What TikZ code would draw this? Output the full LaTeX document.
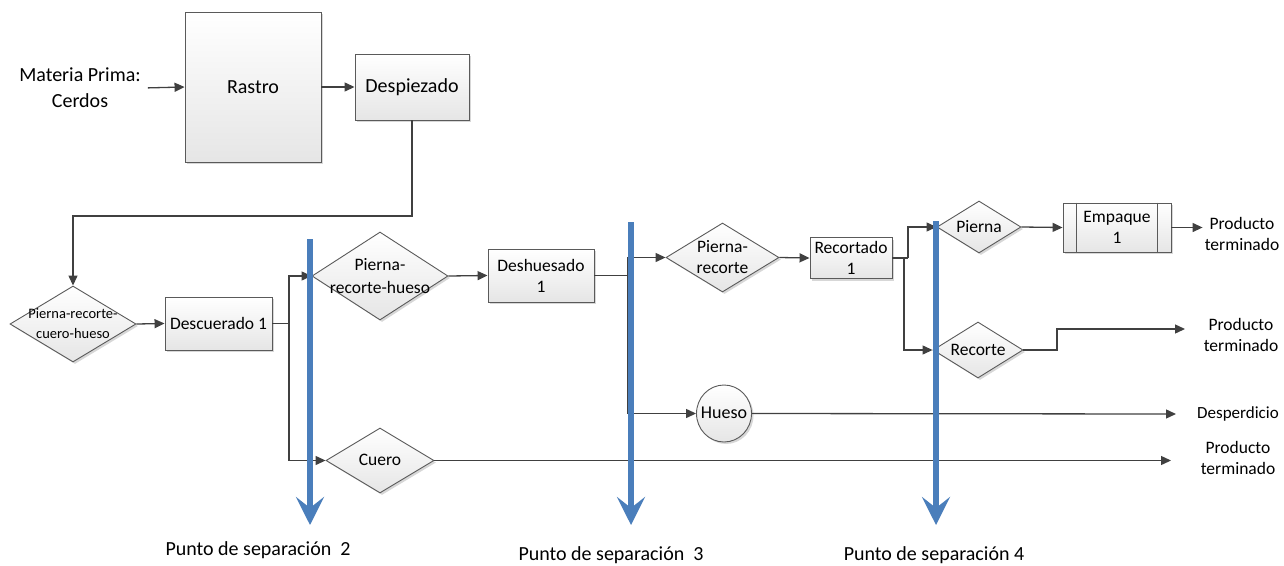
\documentclass[tikz,border=0pt]{standalone}
\usepackage{fontspec}
\setmainfont{Carlito}
\usetikzlibrary{arrows.meta,shapes.geometric,shadows}
\definecolor{linegray}{HTML}{404040}
\definecolor{edgegray}{HTML}{5A5A5A}
\definecolor{sepblue}{HTML}{4A7EBB}
% text of zero size, so that a shape keeps the size it is given
\newcommand\zbox[1]{\smash{\makebox[0pt]{\raisebox{-0.3em}{\begin{tabular}{@{}c@{}}#1\end{tabular}}}}}
\newcommand\fs[2]{\fontsize{#1}{#2}\selectfont}

\begin{document}
\begin{tikzpicture}[x=1pt,y=-1pt,
  every node/.style={inner sep=2pt},
  shapefill/.style={draw=edgegray, line width=0.9pt, top color=white, bottom color=black!10,
    drop shadow={shadow xshift=2pt, shadow yshift=-2pt, fill=black!35, opacity=0.45}},
  procbox/.style={shapefill, rectangle, font=\fs{17.5}{21}, align=center},
  bigbox/.style={shapefill, rectangle, font=\fs{20}{24}},
  decision/.style={shapefill, diamond, inner sep=0pt},
  conn/.style={draw=linegray, line width=1.3pt, -{Triangle[length=10pt,width=9pt]}},
  wire/.style={draw=linegray, line width=1.3pt},
  plain/.style={font=\fs{17.5}{21}, align=center},
  septxt/.style={font=\fs{20}{24}},
  sep/.style={draw=sepblue, line width=6pt, -{Stealth[length=28pt,width=28pt,inset=11pt]}}
]
\useasboundingbox (0,0) rectangle (1284,565);

% upper part: input, slaughter and cutting
\node[font=\fs{20}{26}, align=center] (mp) at (80,88) {Materia Prima:\\Cerdos};
\node[bigbox, minimum width=136pt, minimum height=150pt] (rastro) at (253,87) {Rastro};
\node[bigbox, minimum width=114pt, minimum height=66pt] (desp) at (412,87) {Despiezado};

% process chain
\node[decision, minimum width=126pt, minimum height=76pt, font=\fs{14.5}{20}] (prch) at (73,324) {\zbox{Pierna-recorte-\\cuero-hueso}};
\node[procbox, minimum width=107pt, minimum height=53pt] (desc) at (218.5,323.5) {Descuerado 1};
\node[decision, minimum width=136pt, minimum height=88pt, font=\fs{17.5}{23}] (prh) at (380,276) {\zbox{Pierna-\\recorte-hueso}};
\node[procbox, minimum width=106pt, minimum height=53pt] (desh) at (541,275.5) {Deshuesado\\1};
\node[decision, minimum width=113pt, minimum height=69pt, font=\fs{17.5}{21}] (pr) at (722.5,257.5) {\zbox{Pierna-\\recorte}};
\node[procbox, minimum width=82pt, minimum height=41pt, inner sep=0pt] (rec) at (851,258) {Recortado\\1};
\node[decision, minimum width=84pt, minimum height=52pt, font=\fs{17.5}{21}] (pierna) at (979,227) {\zbox{Pierna}};
\node[procbox, minimum width=108pt, minimum height=49pt] (emp) at (1117,227.5) {Empaque\\1};
\draw[edgegray, line width=0.9pt]
  ([xshift=14pt]emp.north west) -- ([xshift=14pt]emp.south west)
  ([xshift=-14pt]emp.north east) -- ([xshift=-14pt]emp.south east);
\node[decision, minimum width=90pt, minimum height=56pt, font=\fs{17.5}{21}] (recorte) at (978,350) {\zbox{Recorte}};
\node[shapefill, ellipse, minimum width=55pt, minimum height=57pt, inner sep=0pt, font=\fs{18}{20}] (hueso) at (724,413.5) {\zbox{Hueso}};
\node[decision, minimum width=108pt, minimum height=65pt, font=\fs{17.5}{20}] (cuero) at (380,460.5) {\zbox{Cuero}};

% outputs
\node[plain] (pt1) at (1242,233.5) {Producto\\terminado};
\node[plain] (pt2) at (1241,334.5) {Producto\\terminado};
\node[plain, font=\fs{17}{20}] (desper) at (1238,414) {Desperdicio};
\node[plain] (pt3) at (1238,457.5) {Producto\\terminado};

% junctions and free ends
\coordinate (j1) at (73,216);
\coordinate (b1) at (289,323.5);
\coordinate (b2) at (628,275.5);
\coordinate (b3) at (908,258);
\coordinate (b4) at (904,258);
\coordinate (c5) at (1057,350);
\coordinate (e2) at (1185,329);
\coordinate (e3) at (1176,414);
\coordinate (e4) at (1171,460.5);

% connectors
\draw[conn, shorten <=5pt] (mp.east) -- (rastro.west);
\draw[conn] (rastro.east) -- (desp.west);
\draw[conn] (desp.south) |- (j1) -- (prch.north);
\draw[conn] (prch.east) -- (desc.west);
\draw[wire] (desc.east) -- (b1);
\draw[conn] (b1) |- (prh.west);
\draw[conn] (b1) |- (cuero.west);
\draw[conn] (prh.east) -- (desh.west);
\draw[wire] (desh.east) -- (b2);
\draw[conn] (b2) |- (pr.west);
\draw[conn] (b2) |- (hueso.west);
\draw[conn] (pr.east) -- (rec.west);
\draw[wire] (rec.east) -- (b3);
\draw[conn] (b3) |- (pierna.west);
\draw[conn] (b4) |- (recorte.west);
\draw[conn] (pierna.east) -- (emp.west);
\draw[conn] (emp.east) -- (emp.east -| pt1.west);
\draw[conn] (recorte.east) -- (c5) |- (e2);
\draw[conn] (hueso.east) -- (e3);
\draw[conn] (cuero.east) -- (e4);

% separation points
\coordinate (s2a) at (310,239);
\coordinate (s2b) at (310,525);
\coordinate (s3a) at (631,222);
\coordinate (s3b) at (631,525);
\coordinate (s4a) at (936,221);
\coordinate (s4b) at (936,525);
\draw[sep] (s2a) -- (s2b);
\draw[sep] (s3a) -- (s3b);
\draw[sep] (s4a) -- (s4b);
\node[septxt] (l2) at (258,550) {Punto de separación\ \ 2};
\node[septxt] (l3) at (611,555) {Punto de separación\ \ 3};
\node[septxt] (l4) at (934,555) {Punto de separación 4};
\end{tikzpicture}
\end{document}
